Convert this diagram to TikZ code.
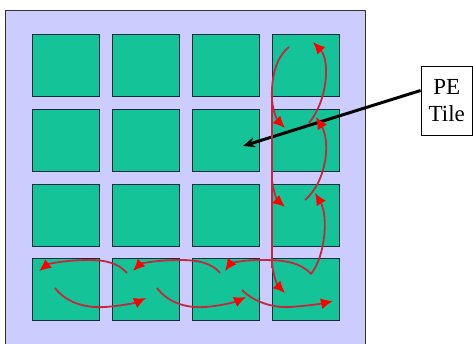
\documentclass[tikz,border=0pt]{standalone}
\usepackage{fontspec}
\setmainfont{Liberation Serif}
\usetikzlibrary{arrows.meta}
\definecolor{lav}{RGB}{204,204,255}
\definecolor{tealtile}{RGB}{20,196,152}
\definecolor{tileedge}{RGB}{20,45,60}
\definecolor{arr}{RGB}{195,40,60}
\begin{document}
\begin{tikzpicture}[x=1pt,y=-1pt,
  tile/.style={draw=tileedge, line width=1pt, fill=tealtile, minimum width=67pt, minimum height=62pt, inner sep=0pt, outer sep=0pt},
  flow/.style={draw=arr, line width=1.8pt, -{Latex[length=12pt,width=11pt,fill=red,color=red]}},
  plain/.style={draw=arr, line width=1.8pt}]
\path[fill=white] (0,0) rectangle (473,344);
\useasboundingbox (0,0) rectangle (473,344);
\node[draw=black!80, fill=lav, line width=0.8pt, minimum width=360pt, minimum height=340pt, inner sep=0pt, anchor=north west] (chip) at (5,10) {};
\foreach \c/\x in {1/65.5,2/145.5,3/225.5,4/305.5}
  \foreach \r/\y in {1/66,2/141,3/215.5,4/289.5}
    \node[tile] (t\r\c) at (\x,\y) {};
\node[draw=black, fill=white, line width=0.8pt, minimum width=51.5pt, minimum height=69pt, inner sep=0pt, align=center, font=\fontsize{23}{27}\selectfont] (pe) at (446.75,100.5) {PE\\Tile};
\coordinate (tgt) at (243,146);
\draw[line width=3pt, -{Stealth[length=12pt,width=10pt]}] ([yshift=10pt]pe.west) -- (tgt);
% left column, downward
\draw[plain] (289,47) .. controls (275,58) and (271,80) .. (272,100) -- (272,268);
\draw[flow] (272,100) .. controls (273,112) and (278,121) .. (285,128);
\draw[flow] (272,180) .. controls (273,192) and (278,201) .. (285,207);
\draw[flow] (272,262) .. controls (273,276) and (278,286) .. (285,293);
% right column, upward
\draw[flow] (311,274) .. controls (326,255) and (328,215) .. (315,193);
\draw[flow] (305,200) .. controls (328,180) and (330,140) .. (316,117);
\draw[flow] (309,123) .. controls (328,100) and (330,60) .. (313,42);
% bottom row, leftward
\draw[flow] (311,274) .. controls (300,262) and (285,260) .. (260,260) .. controls (240,260) and (230,264) .. (225,271);
\draw[flow] (220,273) .. controls (212,263) and (198,260) .. (180,260) .. controls (155,260) and (140,264) .. (133,271);
\draw[flow] (127,273) .. controls (118,263) and (105,260) .. (90,260) .. controls (65,260) and (48,264) .. (39,271);
% bottom row, rightward
\draw[flow] (55,288) .. controls (68,305) and (90,308) .. (105,307) .. controls (120,306) and (135,303) .. (146,298);
\draw[flow] (157,288) .. controls (170,305) and (190,308) .. (205,307) .. controls (220,306) and (235,302) .. (246,297);
\draw[flow] (242,290) .. controls (255,303) and (275,308) .. (290,307) .. controls (305,306) and (320,304) .. (333,301);
\end{tikzpicture}
\end{document}
